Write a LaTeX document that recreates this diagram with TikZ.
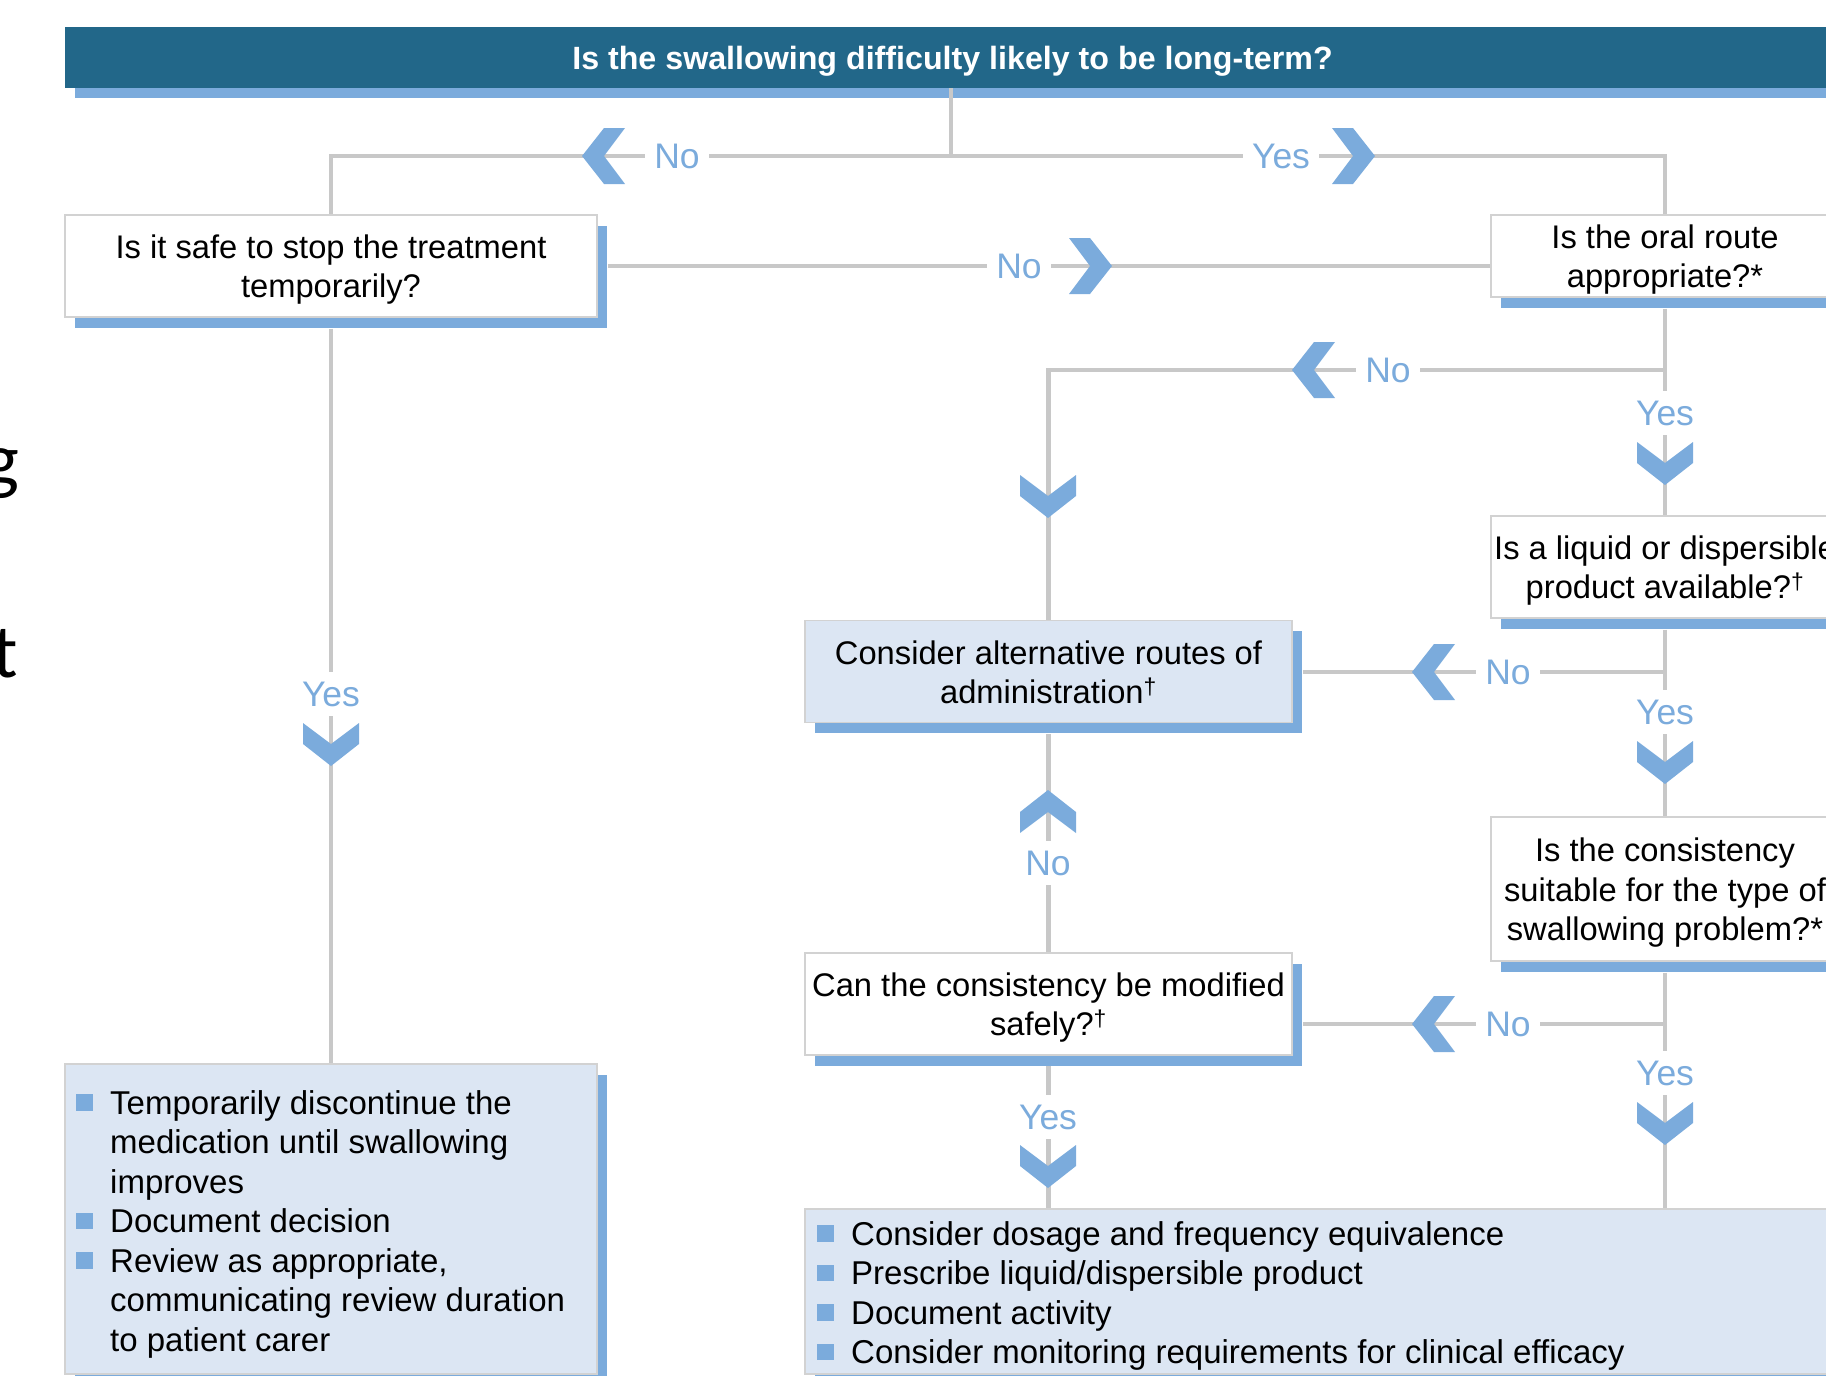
\documentclass[tikz,border=0pt]{standalone}
\usepackage{fontspec}
\setmainfont{Liberation Sans}
\newfontfamily\calfont{Carlito}
\usetikzlibrary{shadows}
\definecolor{hdrblue}{HTML}{226789}
\definecolor{sblue}{HTML}{7BABDC}
\definecolor{lgray}{HTML}{C8C8C8}
\definecolor{bgray}{HTML}{D2D2D2}
\definecolor{pale}{HTML}{DCE6F3}
\newcommand\lstrut{\rule[-7pt]{0pt}{38.3pt}}
\newcommand\bul{\makebox[34pt][l]{\textcolor{sblue}{\rule[3.5pt]{16.5pt}{16.5pt}}}}
\newcommand\nob{\hspace*{34pt}}
\begin{document}
\begin{tikzpicture}[x=1pt,y=-1pt,
  conn/.style={draw=lgray, line width=4.8pt},
  qbox/.style={draw=bgray, line width=1.3pt, fill=white, align=center, inner sep=0pt,
     font=\fontsize{32.7}{39.3}\selectfont,
     general shadow={fill=sblue, shadow xshift=10pt, shadow yshift=-10.5pt}},
  abox/.style={qbox, fill=pale},
  lab/.style={fill=white, text=sblue, font=\fontsize{35.5}{38}\selectfont, inner xsep=9pt, inner ysep=9pt, text height=25.5pt, text depth=0pt},
  listtext/.style={anchor=north west, inner sep=0pt, align=left, font=\fontsize{33}{39.5}\selectfont},
  frag/.style={anchor=base east, inner sep=0pt, font=\calfont\fontsize{76}{80}\selectfont},
  chev/.pic={\fill[sblue] (-28,-43) -- (-28,-22) -- (0,0) -- (28,-22) -- (28,-43) -- (0,-22) -- cycle;}
]
\useasboundingbox (0,0) rectangle (1826,1376);

% background fragments of text at the left edge
\node[frag] (frag1) at (19,485) {g};
\node[frag] (frag2) at (18.5,677) {t};

% header
\node[fill=hdrblue, minimum width=1775pt, minimum height=61pt, inner sep=0pt, text=white,
      font=\bfseries\fontsize{32.2}{36}\selectfont, text height=23.3pt, text depth=0pt,
      general shadow={fill=sblue, shadow xshift=10pt, shadow yshift=-10pt}]
      (top) at (952.5,57.5) {Is the swallowing difficulty likely to be long-term?};

% question boxes
\node[qbox, minimum width=532pt, minimum height=102pt] (qstop) at (331,266)
  {\lstrut Is it safe to stop the treatment\\ \lstrut temporarily?};
\node[qbox, minimum width=348pt, minimum height=82pt] (qoral) at (1665,256)
  {\lstrut Is the oral route\\ \lstrut appropriate?*};
\node[qbox, minimum width=348pt, minimum height=102pt] (qliq) at (1665,567)
  {\lstrut Is a liquid or dispersible\\ \lstrut product available?\textsuperscript{†}};
\node[qbox, minimum width=348pt, minimum height=144pt] (qcons) at (1665,889)
  {\lstrut Is the consistency\\ \lstrut suitable for the type of\\ \lstrut swallowing problem?*};
\node[abox, minimum width=487pt, minimum height=102pt] (alt) at (1048.5,671.5)
  {\lstrut Consider alternative routes of\\ \lstrut administration\textsuperscript{†}};
\node[qbox, minimum width=487pt, minimum height=102pt] (qmod) at (1048.5,1004)
  {\lstrut Can the consistency be modified\\ \lstrut safely?\textsuperscript{†}};

% result boxes
\node[abox, minimum width=532pt, minimum height=310pt] (lres) at (331,1219) {};
\node[abox, minimum width=1035pt, minimum height=165pt] (rres) at (1322.5,1291.5) {};
\node[listtext] (lrestext) at (76,1082.5)
  {\lstrut\bul Temporarily discontinue the\\
   \nob medication until swallowing\\
   \nob improves\\
   \bul Document decision\\
   \bul Review as appropriate,\\
   \nob communicating review duration\\
   \nob to patient carer};
\node[listtext] (rrestext) at (817,1213.5)
  {\lstrut\bul Consider dosage and frequency equivalence\\
   \bul Prescribe liquid/dispersible product\\
   \bul Document activity\\
   \bul Consider monitoring requirements for clinical efficacy};

% junctions
\coordinate (j0) at (951,156);
\coordinate (b1) at (1665,370);
\coordinate (b2) at (1665,672);
\coordinate (b3) at (1665,1024);

% connectors
\draw[conn] (top.south -| j0) -- (j0);
\draw[conn] (j0) -| (qstop.north);
\draw[conn] (j0) -| (qoral.north);
\draw[conn, shorten <=10pt] (qstop.east) -- (qstop.east -| qoral.west);
\draw[conn, shorten <=11pt] (qoral.south) -- (qliq.north);
\draw[conn] (b1) -| (alt.north);
\draw[conn, shorten <=11pt] (qliq.south) -- (qcons.north);
\draw[conn, shorten >=10pt] (b2) -- (b2 -| alt.east);
\draw[conn, shorten <=11pt] (qcons.south) -- (qcons.south |- rres.north);
\draw[conn, shorten >=10pt] (b3) -- (b3 -| qmod.east);
\draw[conn, shorten >=10.5pt] (qmod.north) -- (alt.south);
\draw[conn, shorten <=10.5pt] (qmod.south) -- (qmod.south |- rres.north);
\draw[conn, shorten <=11pt] (qstop.south) -- (qstop.south |- lres.north);

% chevrons
\pic[rotate=-90] at (582,156) {chev};
\pic[rotate=90] at (1375,156) {chev};
\pic[rotate=90] at (1112,266) {chev};
\pic[rotate=-90] at (1292,370) {chev};
\pic at (1048,518) {chev};
\pic at (1665,485) {chev};
\pic[rotate=-90] at (1412,672) {chev};
\pic at (1665,784) {chev};
\pic[rotate=-90] at (1412,1024) {chev};
\pic at (1665,1145) {chev};
\pic[rotate=180] at (1048,790) {chev};
\pic at (1048,1188) {chev};
\pic at (331,766) {chev};

% labels
\node[lab] (l1) at (677,156) {No};
\node[lab] (l2) at (1281,156) {Yes};
\node[lab] (l3) at (1019,266) {No};
\node[lab] (l4) at (1388,370) {No};
\node[lab] (l5) at (1665,413) {Yes};
\node[lab] (l6) at (1508,672) {No};
\node[lab] (l7) at (1665,712) {Yes};
\node[lab] (l8) at (1508,1024) {No};
\node[lab] (l9) at (1665,1073) {Yes};
\node[lab] (l10) at (1048,863) {No};
\node[lab] (l11) at (1048,1117) {Yes};
\node[lab] (l12) at (331,694) {Yes};
\end{tikzpicture}
\end{document}
